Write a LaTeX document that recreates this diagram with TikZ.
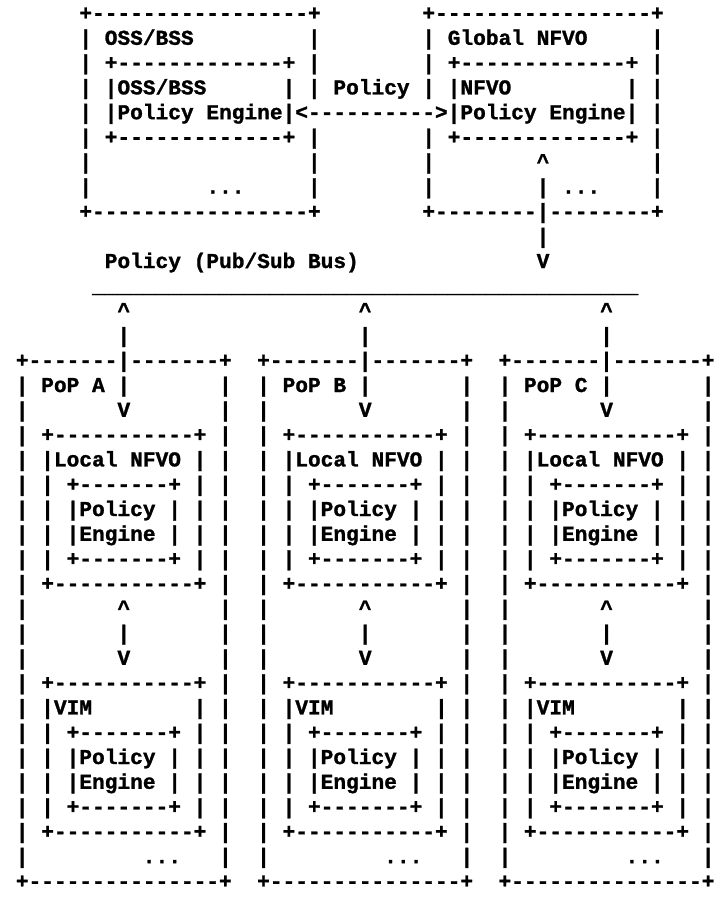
\documentclass[tikz,border=0pt]{standalone}
\usepackage{fontspec}
\setmonofont{Liberation Mono}[BoldFeatures={FakeBold=1.2}]
\ExplSyntaxOn
\cs_new:Npn \R #1#2 { \prg_replicate:nn {#1} {#2} }
\ExplSyntaxOff
\newcommand\Sp[1]{\R{#1}{~}}
\newcommand\Da[1]{\R{#1}{-}}
\newcommand\Up{\textasciicircum}
\newcommand\Three[1]{#1\Sp{2}#1\Sp{2}#1}
\tikzset{ascii/.style={anchor=base west, inner sep=0pt, text=black,
  font=\ttfamily\bfseries\fontsize{21.17}{24.8}\selectfont}}
\newcommand\Row[2]{\node[ascii] (r#1) at (15.65pt,{-(20+#1*24.8)*1pt}) {#2};}
\begin{document}
\begin{tikzpicture}
\path[fill=white] (0pt,0pt) rectangle (717pt,-911pt);
\useasboundingbox (0pt,0pt) rectangle (717pt,-911pt);
\Row{0}{\Sp{5}+\Da{17}+\Sp{8}+\Da{17}+}
\Row{1}{\Sp{5}|~OSS/BSS\Sp{9}|\Sp{8}|~Global~NFVO\Sp{5}|}
\Row{2}{\Sp{5}|~+\Da{13}+~|\Sp{8}|~+\Da{13}+~|}
\Row{3}{\Sp{5}|~|OSS/BSS\Sp{6}|~|~Policy~|~|NFVO\Sp{9}|~|}
\Row{4}{\Sp{5}|~|Policy~Engine|<\Da{10}>|Policy~Engine|~|}
\Row{5}{\Sp{5}|~+\Da{13}+~|\Sp{8}|~+\Da{13}+~|}
\Row{6}{\Sp{5}|\Sp{17}|\Sp{8}|\Sp{8}\Up\Sp{8}|}
\Row{7}{\Sp{5}|\Sp{9}...\Sp{5}|\Sp{8}|\Sp{8}|~...\Sp{4}|}
\Row{8}{\Sp{5}+\Da{17}+\Sp{8}+\Da{8}|\Da{8}+}
\Row{9}{\Sp{41}|}
\Row{10}{\Sp{7}Policy~(Pub/Sub~Bus)\Sp{14}V}
\Row{11}{\Sp{6}\R{43}{\_}}
\Row{12}{\Sp{8}\Up\Sp{18}\Up\Sp{18}\Up}
\Row{13}{\Sp{8}|\Sp{18}|\Sp{18}|}
\Row{14}{\Three{+\Da{7}|\Da{7}+}}
\Row{15}{|~PoP~A~|\Sp{7}|\Sp{2}|~PoP~B~|\Sp{7}|\Sp{2}|~PoP~C~|\Sp{7}|}
\Row{16}{\Three{|\Sp{7}V\Sp{7}|}}
\Row{17}{\Three{|~+\Da{11}+~|}}
\Row{18}{\Three{|~|Local~NFVO~|~|}}
\Row{19}{\Three{|~|~+\Da{7}+~|~|}}
\Row{20}{\Three{|~|~|Policy~|~|~|}}
\Row{21}{\Three{|~|~|Engine~|~|~|}}
\Row{22}{\Three{|~|~+\Da{7}+~|~|}}
\Row{23}{\Three{|~+\Da{11}+~|}}
\Row{24}{\Three{|\Sp{7}\Up\Sp{7}|}}
\Row{25}{\Three{|\Sp{7}|\Sp{7}|}}
\Row{26}{\Three{|\Sp{7}V\Sp{7}|}}
\Row{27}{\Three{|~+\Da{11}+~|}}
\Row{28}{\Three{|~|VIM\Sp{8}|~|}}
\Row{29}{\Three{|~|~+\Da{7}+~|~|}}
\Row{30}{\Three{|~|~|Policy~|~|~|}}
\Row{31}{\Three{|~|~|Engine~|~|~|}}
\Row{32}{\Three{|~|~+\Da{7}+~|~|}}
\Row{33}{\Three{|~+\Da{11}+~|}}
\Row{34}{\Three{|\Sp{9}...\Sp{3}|}}
\Row{35}{\Three{+\Da{15}+}}
\end{tikzpicture}
\end{document}
